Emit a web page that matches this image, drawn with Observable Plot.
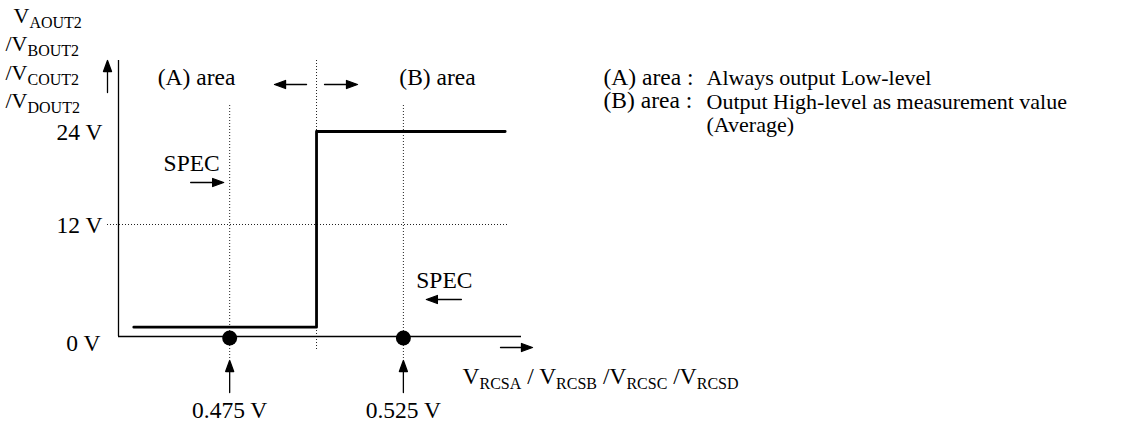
<!DOCTYPE html>
<html><head><meta charset="utf-8">
<script src="https://cdn.jsdelivr.net/npm/d3@7"></script>
<script src="https://cdn.jsdelivr.net/npm/@observablehq/plot@0.6"></script>
<style>html,body{margin:0;background:#fff}svg{display:block}</style>
</head><body><div id="chart"></div>
<script>
// ---- data ----
const levels = [0, 12, 24];
const levelLabels = ["0 V", "12 V", "24 V"];
const specPoints = [0.475, 0.525];
const specLabels = ["0.475 V", "0.525 V"];
const threshold = 0.5;
const stepX = [0.4474, 0.5, 0.5543];
const stepY = [1, 24, 24];
const areaNames = ["(A) area", "(B) area"];
const legendKeys = ["(A) area :", "(B) area :"];
const legendTexts = ["Always output Low-level", "Output High-level as measurement value", "(Average)"];
const yTitle = ["V{AOUT2}", "/V{BOUT2}", "/V{COUT2}", "/V{DOUT2}"];
const xTitle = "V{RCSA} / V{RCSB} /V{RCSC} /V{RCSD}";
const specText = "SPEC";

// ---- layout ----
const xDomain = [0.443, 0.559];
const yTop = 33.2;
// schematic (non-uniform) vertical axis: piecewise warp of volts
const yWarp = d3.scaleLinear().domain([0, 12, 24, yTop]).range([0, 112 / 276 * yTop, 205 / 276 * yTop, yTop]);
const levelData = levels.map((v, i) => ({v, label: levelLabels[i]}));
const specData = specPoints.map((v, i) => ({v, label: specLabels[i]}));
const stepData = stepX.map((x, i) => ({x, y: stepY[i]}));

const T = {fontSize: 23.5, fill: "black", lineAnchor: "middle"};
const dotted = {stroke: "#222", strokeWidth: 1, strokeDasharray: "1,2"};
const arrowShape = {
  draw(context, l) {
    const h = 11, w = 4;
    context.moveTo(0, 0);
    context.lineTo(0, -l + h);
    context.moveTo(0, -l);
    context.lineTo(-w, -l + h);
    context.lineTo(w, -l + h);
    context.closePath();
  }
};
const A = {shape: arrowShape, anchor: "start", fill: "black", stroke: "black", strokeWidth: 1.3};
const id = d => d;

const chart = Plot.plot({
  width: 1121, height: 426,
  marginLeft: 118, marginRight: 600, marginTop: 60, marginBottom: 90,
  x: {domain: xDomain, axis: null},
  y: {domain: [0, yTop], transform: d => yWarp(d), axis: null},
  style: {fontFamily: "Liberation Serif", background: "white", color: "black"},
  marks: [
    Plot.ruleY([12], {...dotted, insetLeft: -11, insetRight: 13}),
    Plot.ruleX(specPoints, {...dotted, insetTop: 45, insetBottom: -24}),
    Plot.ruleX([threshold], {...dotted, insetBottom: -14}),
    Plot.ruleX([xDomain[0]], {stroke: "black", strokeWidth: 1.3}),
    Plot.ruleY([0], {stroke: "black", strokeWidth: 1.3}),
    Plot.line(stepData, {x: "x", y: "y", curve: "step-after", stroke: "black", strokeWidth: 2.8}),
    Plot.dot(specPoints, {x: id, y: () => 0, r: 7.5, fill: "black", dy: 1.5}),
    // arrows
    Plot.vector([xDomain[0]], {...A, x: id, frameAnchor: "top", dx: -11, dy: 32, length: 32, rotate: 0}),
    Plot.vector([xDomain[1]], {...A, x: id, y: () => 0, dx: -21, dy: 11, length: 32, rotate: 90}),
    Plot.vector(specPoints, {...A, x: id, y: () => 0, dy: 56, length: 32, rotate: 0}),
    Plot.vector([threshold], {...A, x: id, frameAnchor: "top", dx: -10, dy: 24, length: 32, rotate: -90}),
    Plot.vector([threshold], {...A, x: id, frameAnchor: "top", dx: 8, dy: 24, length: 33, rotate: 90}),
    Plot.vector([specPoints[0]], {...A, x: id, y: () => 24, dx: -39, dy: 51, length: 33, rotate: 90}),
    Plot.vector([specPoints[1]], {...A, x: id, y: () => 0, dx: 58, dy: -37, length: 35, rotate: -90}),
    // texts
    Plot.text(levelData.filter(d => d.v > 0), {...T, x: () => xDomain[0], y: "v", text: "label", dx: -16, dy: 1, textAnchor: "end"}),
    Plot.text(levelData.filter(d => d.v === 0), {...T, x: () => xDomain[0], y: "v", text: "label", dx: -18, dy: 7, textAnchor: "end"}),
    Plot.text(specData, {...T, x: "v", y: () => 0, text: "label", dy: 74}),
    Plot.text([areaNames[0]], {...T, x: () => threshold, frameAnchor: "top", dx: -120, dy: 17}),
    Plot.text([areaNames[1]], {...T, x: () => threshold, frameAnchor: "top", dx: 121, dy: 17}),
    Plot.text([specText], {...T, x: () => specPoints[0], y: () => 24, dx: -38, dy: 32}),
    Plot.text([specText], {...T, x: () => specPoints[1], y: () => 0, dx: 41, dy: -56}),
    Plot.text([legendKeys.join("\n")], {...T, frameAnchor: "top-right", dx: 82, dy: 7, lineAnchor: "top", textAnchor: "start", lineHeight: 1.02}),
    Plot.text([legendTexts.join("\n")], {...T, fontSize: 22, frameAnchor: "top-right", dx: 185, dy: 7, lineAnchor: "top", textAnchor: "start", lineHeight: 1.09}),
    ...yTitle.map((t, i) => Plot.text([t], {...T, fontSize: 22, frameAnchor: "top-left", dx: i ? -113 : -105, dy: -45 + i * 28.5, textAnchor: "start"})),
    Plot.text([xTitle], {...T, x: () => xDomain[1], y: () => 0, dx: -59, dy: 40, textAnchor: "start"})
  ]
});

// subscripts: "{...}" segments become real subscript tspans
d3.select(chart).selectAll("text").each(function () {
  if (this.querySelector("tspan")) return;
  const t = this.textContent;
  if (!t.includes("{")) return;
  const sel = d3.select(this);
  sel.text(null);
  let shifted = false;
  for (const p of t.split(/(\{[^}]*\})/).filter(s => s.length)) {
    if (p.startsWith("{")) {
      sel.append("tspan").attr("dy", shifted ? null : 5).attr("font-size", 16).text(p.slice(1, -1));
      shifted = true;
    } else {
      sel.append("tspan").attr("dy", shifted ? -5 : null).text(p);
      shifted = false;
    }
  }
});
document.getElementById("chart").append(chart);
</script></body></html>
